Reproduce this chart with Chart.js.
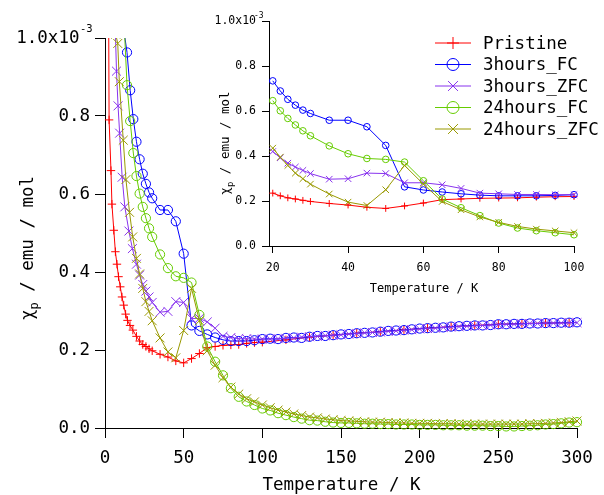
<!DOCTYPE html>
<html><head><meta charset="utf-8">
<script src="https://cdn.jsdelivr.net/npm/chart.js@4/dist/chart.umd.min.js"></script>
<style>
html,body{margin:0;padding:0;background:#fff;}
#wrap{position:relative;width:604px;height:495px;overflow:hidden;}
#main{position:absolute;left:0;top:0;}
#inset{position:absolute;left:200px;top:0;}
</style></head><body>
<div id="wrap">
<canvas id="main" width="604" height="495"></canvas>
<canvas id="inset" width="404" height="300"></canvas>
</div>
<script>
// ---------- data (chi_p in units of 1e-3 emu/mol, T in K) ----------
const tempHigh = [105,110,115,120,125,130,135,140,145,150,155,160,165,170,175,180,185,190,195,200,205,210,215,220,225,230,235,240,245,250,255,260,265,270,275,280,285,290,295,300];
const tempMid = [20,22,24,26,28,30,35,40,45,50,55,60,65,70,75,80,85,90,95,100];

const tempPristine = [1.8,2.6,3.8,4.4,5.6,6.6,7.6,8.6,9.7,10.8,11.9,13.1,14.3,15.9,17.7,20,22,24,26,28,30,35,40,45,50,55,60,65,70,75,80,85,90,95,100,115,130,145,160,175,190,205,220,235,250,265,280,295];
const chiPristine = [1.60,0.79,0.66,0.574,0.507,0.452,0.420,0.388,0.362,0.336,0.315,0.292,0.276,0.263,0.251,
  0.235,0.223,0.214,0.209,0.203,0.198,0.189,0.182,0.172,0.167,0.178,0.191,0.206,0.209,0.212,0.213,0.214,0.217,0.219,0.220,
  0.226,0.233,0.238,0.243,0.247,0.252,0.256,0.260,0.263,0.266,0.268,0.269,0.270];

const temp3hFCLow = [12,14,16,18];
const chi3hFC = [1.02,0.963,0.866,0.792,
  0.734,0.689,0.652,0.626,0.604,0.589,0.559,0.559,0.530,0.447,0.263,0.249,0.240,0.232,0.226,0.223,0.223,0.223,0.225,0.228,
  0.229,0.228,0.231,0.232,0.231,0.234,0.236,0.236,0.238,0.240,0.241,0.243,0.244,0.245,0.247,0.249,0.250,0.251,0.253,0.255,
  0.256,0.257,0.258,0.260,0.261,0.262,0.263,0.263,0.264,0.266,0.266,0.267,0.267,0.268,0.268,0.269,0.269,0.270,0.270,0.271];

const temp3hZFCLow = [6,7.3,8.3,9.3,10.9,12.6,15.2,17.4];
const chi3hZFC = [1.10,0.915,0.826,0.756,0.643,0.567,0.505,0.460,
  0.420,0.392,0.368,0.351,0.336,0.322,0.297,0.299,0.324,0.322,0.281,0.281,0.272,0.256,0.235,0.232,0.229,0.229,0.228,0.228,
  0.228,0.229,0.230,0.231,0.233,0.234,0.235,0.237,0.238,0.239,0.241,0.242,0.244,0.245,0.246,0.248,0.249,0.251,0.252,0.254,
  0.255,0.256,0.258,0.259,0.260,0.261,0.262,0.263,0.264,0.265,0.266,0.266,0.267,0.268,0.268,0.269,0.269,0.269,0.270,0.270];

const temp24hFCLow = [12,14,16,18];
const chi24hFC = [1.05,0.879,0.787,0.705,
  0.646,0.601,0.567,0.538,0.512,0.490,0.445,0.410,0.389,0.385,0.373,0.290,0.209,0.170,0.135,0.102,0.080,0.068,0.059,0.050,
  0.045,0.038,0.033,0.028,0.024,0.020,0.019,0.016,0.014,0.013,0.013,0.012,0.011,0.011,0.010,0.010,0.009,0.009,0.009,0.008,
  0.008,0.008,0.007,0.007,0.007,0.006,0.006,0.006,0.005,0.005,0.004,0.004,0.005,0.006,0.007,0.009,0.010,0.012,0.014,0.015];

const temp24hZFCLow = [6.8,8.1,9.1,11.6,13.3,15.6,17.6];
const chi24hZFC = [1.01,0.986,0.888,0.738,0.637,0.553,0.490,
  0.435,0.395,0.358,0.324,0.299,0.275,0.231,0.195,0.180,0.250,0.358,0.275,0.198,0.161,0.129,0.105,0.087,0.075,0.067,0.059,
  0.052,0.046,0.041,0.036,0.032,0.028,0.026,0.023,0.021,0.019,0.018,0.017,0.016,0.015,0.015,0.014,0.013,0.013,0.012,0.012,
  0.012,0.011,0.011,0.011,0.010,0.010,0.010,0.010,0.010,0.010,0.010,0.010,0.010,0.011,0.011,0.012,0.013,0.014,0.016,0.018];

const seriesLabels = ['Pristine','3hours_FC','3hours_ZFC','24hours_FC','24hours_ZFC'];

const mainXTicks = [0,50,100,150,200,250,300];
const mainYTicks = [0,0.2,0.4,0.6,0.8,1.0];
const mainYTickLabels = ['0.0','0.2','0.4','0.6','0.8','1.0x10 '];
const insetXTicks = [20,40,60,80,100];
const insetYTicks = [0,0.2,0.4,0.6,0.8,1.0];
const insetYTickLabels = ['0.0','0.2','0.4','0.6','0.8','1.0x10'];

// ---------- build ----------
const seriesT = [
  tempPristine,
  temp3hFCLow.concat(tempMid, tempHigh),
  temp3hZFCLow.concat(tempMid, tempHigh),
  temp24hFCLow.concat(tempMid, tempHigh),
  temp24hZFCLow.concat(tempMid, tempHigh)
];
const seriesV = [chiPristine, chi3hFC, chi3hZFC, chi24hFC, chi24hZFC];
const colors = ['#ff0000','#0000ff','#8833ee','#66cc00','#999900'];
const styles = ['cross','circle','crossRot','circle','crossRot'];

const MONO = "'DejaVu Sans Mono', 'Liberation Mono', monospace";
const radiusFor = (st, kind) => {
  const t = {main:{cross:4.2,circle:4.6,crossRot:6.3}, inset:{cross:3.4,circle:3.3,crossRot:4.6}, legend:{cross:6,circle:6,crossRot:7}};
  return t[kind][st];
};

function makeDatasets(kind, tmin, tmax) {
  return seriesLabels.map((lab, i) => {
    const pts = [];
    seriesT[i].forEach((t, j) => { if (t >= tmin && t <= tmax) pts.push({x: t, y: seriesV[i][j]}); });
    return {
      label: lab, data: pts, borderColor: colors[i], backgroundColor: 'rgba(0,0,0,0)',
      borderWidth: 1, pointStyle: styles[i], pointRadius: radiusFor(styles[i], kind),
      pointBorderColor: colors[i], pointBackgroundColor: 'rgba(0,0,0,0)', pointBorderWidth: 1,
      pointHoverRadius: radiusFor(styles[i], kind), tension: 0, order: 5 - i,
      clip: kind === 'main' ? {left: 10, right: 10, top: 0, bottom: 10} : false
    };
  });
}

function axis(min, max, ticks, labels, tickLen, fontSize, pad, fitFn) {
  return {
    type: 'linear', min: min, max: max,
    afterBuildTicks: s => { s.ticks = ticks.map(v => ({value: v})); },
    afterFit: fitFn,
    ticks: {
      autoSkip: false, maxRotation: 0, minRotation: 0, color: '#000', padding: pad,
      font: {family: MONO, size: fontSize},
      callback: (v, idx) => labels ? labels[idx] : String(v)
    },
    grid: {drawOnChartArea: false, drawTicks: true, tickLength: tickLen, color: '#000', lineWidth: 1},
    border: {display: true, color: '#000', width: 1}
  };
}

function drawRotTitle(ctx, cx, cy, baseX, size, subSize) {
  // chi_p / emu / mol, rotated -90deg
  ctx.save();
  ctx.translate(baseX, cy);
  ctx.rotate(-Math.PI / 2);
  ctx.fillStyle = '#000';
  ctx.textBaseline = 'alphabetic';
  ctx.textAlign = 'left';
  ctx.font = size + 'px ' + MONO;
  const w1 = ctx.measureText('\u03C7').width;
  const rest = ' / emu / mol';
  const w3 = ctx.measureText(rest).width;
  ctx.font = subSize + 'px ' + MONO;
  const w2 = ctx.measureText('p').width;
  const total = w1 + w2 + w3;
  let x = -total / 2;
  ctx.font = size + 'px ' + MONO;
  ctx.fillText('\u03C7', x, 0); x += w1;
  ctx.font = subSize + 'px ' + MONO;
  ctx.fillText('p', x, size * 0.28); x += w2;
  ctx.font = size + 'px ' + MONO;
  ctx.fillText(rest, x, 0);
  ctx.restore();
}

const MA = {left: 105, right: 577, top: 38, bottom: 428, W: 604, H: 495};
const mainPlugin = {
  id: 'mainDecor',
  afterDraw(chart) {
    const ctx = chart.ctx;
    // superscript on top y label
    ctx.save();
    ctx.fillStyle = '#000';
    ctx.font = '10.5px ' + MONO;
    ctx.textBaseline = 'middle';
    ctx.textAlign = 'left';
    ctx.fillText('-3', 80, 29);
    // x title
    ctx.font = '17.5px ' + MONO;
    ctx.textAlign = 'center';
    ctx.textBaseline = 'alphabetic';
    ctx.fillText('Temperature / K', 341.5, 490);
    ctx.restore();
    drawRotTitle(ctx, 0, 248, 33, 17.5, 12);
    // legend
    ctx.save();
    const rows = [43, 64.5, 86, 107.5, 129];
    seriesLabels.forEach((lab, i) => {
      const y = rows[i];
      ctx.strokeStyle = colors[i]; ctx.lineWidth = 1;
      ctx.beginPath(); ctx.moveTo(435, y); ctx.lineTo(471, y); ctx.stroke();
      ctx.fillStyle = 'rgba(0,0,0,0)';
      Chart.helpers.drawPoint(ctx, {pointStyle: styles[i], radius: radiusFor(styles[i], 'legend'), borderWidth: 1, rotation: 0}, 453, y);
      ctx.fillStyle = '#000';
      ctx.font = '17.5px ' + MONO;
      ctx.textAlign = 'left'; ctx.textBaseline = 'middle';
      ctx.fillText(lab, 483, y + 1);
    });
    ctx.restore();
  }
};

new Chart(document.getElementById('main'), {
  type: 'line',
  data: {datasets: makeDatasets('main', 0, 300)},
  options: {
    responsive: false, animation: false, devicePixelRatio: 1,
    layout: {padding: {left: 0, top: MA.top, right: MA.W - MA.right, bottom: 0}},
    plugins: {legend: {display: false}, tooltip: {enabled: false}},
    scales: {
      x: axis(0, 300, mainXTicks, null, 10, 17.5, 10, s => { s.height = MA.H - MA.bottom; }),
      y: axis(0, 1, mainYTicks, mainYTickLabels, 10, 17.5, 5, s => { s.width = MA.left; })
    }
  },
  plugins: [mainPlugin]
});

const IA = {left: 69, right: 374, top: 21, bottom: 246, W: 404, H: 300};
const insetPlugin = {
  id: 'insetDecor',
  afterDraw(chart) {
    const ctx = chart.ctx;
    ctx.save();
    ctx.fillStyle = '#000';
    ctx.font = '8px ' + MONO;
    ctx.textBaseline = 'middle';
    ctx.textAlign = 'left';
    ctx.fillText('-3', 54, 15.5);
    ctx.font = '12px ' + MONO;
    ctx.textAlign = 'center';
    ctx.textBaseline = 'alphabetic';
    ctx.fillText('Temperature / K', 224, 292);
    ctx.restore();
    drawRotTitle(ctx, 0, 143, 29, 12.5, 9);
  }
};

new Chart(document.getElementById('inset'), {
  type: 'line',
  data: {datasets: makeDatasets('inset', 20, 100)},
  options: {
    responsive: false, animation: false, devicePixelRatio: 1,
    layout: {padding: {left: 0, top: IA.top, right: IA.W - IA.right, bottom: 0}},
    plugins: {legend: {display: false}, tooltip: {enabled: false}},
    scales: {
      x: axis(19, 100, insetXTicks, null, 7, 11.5, 8, s => { s.height = IA.H - IA.bottom; }),
      y: axis(0, 1, insetYTicks, insetYTickLabels, 7, 11.5, 6, s => { s.width = IA.left; })
    }
  },
  plugins: [insetPlugin]
});
</script>
</body></html>
